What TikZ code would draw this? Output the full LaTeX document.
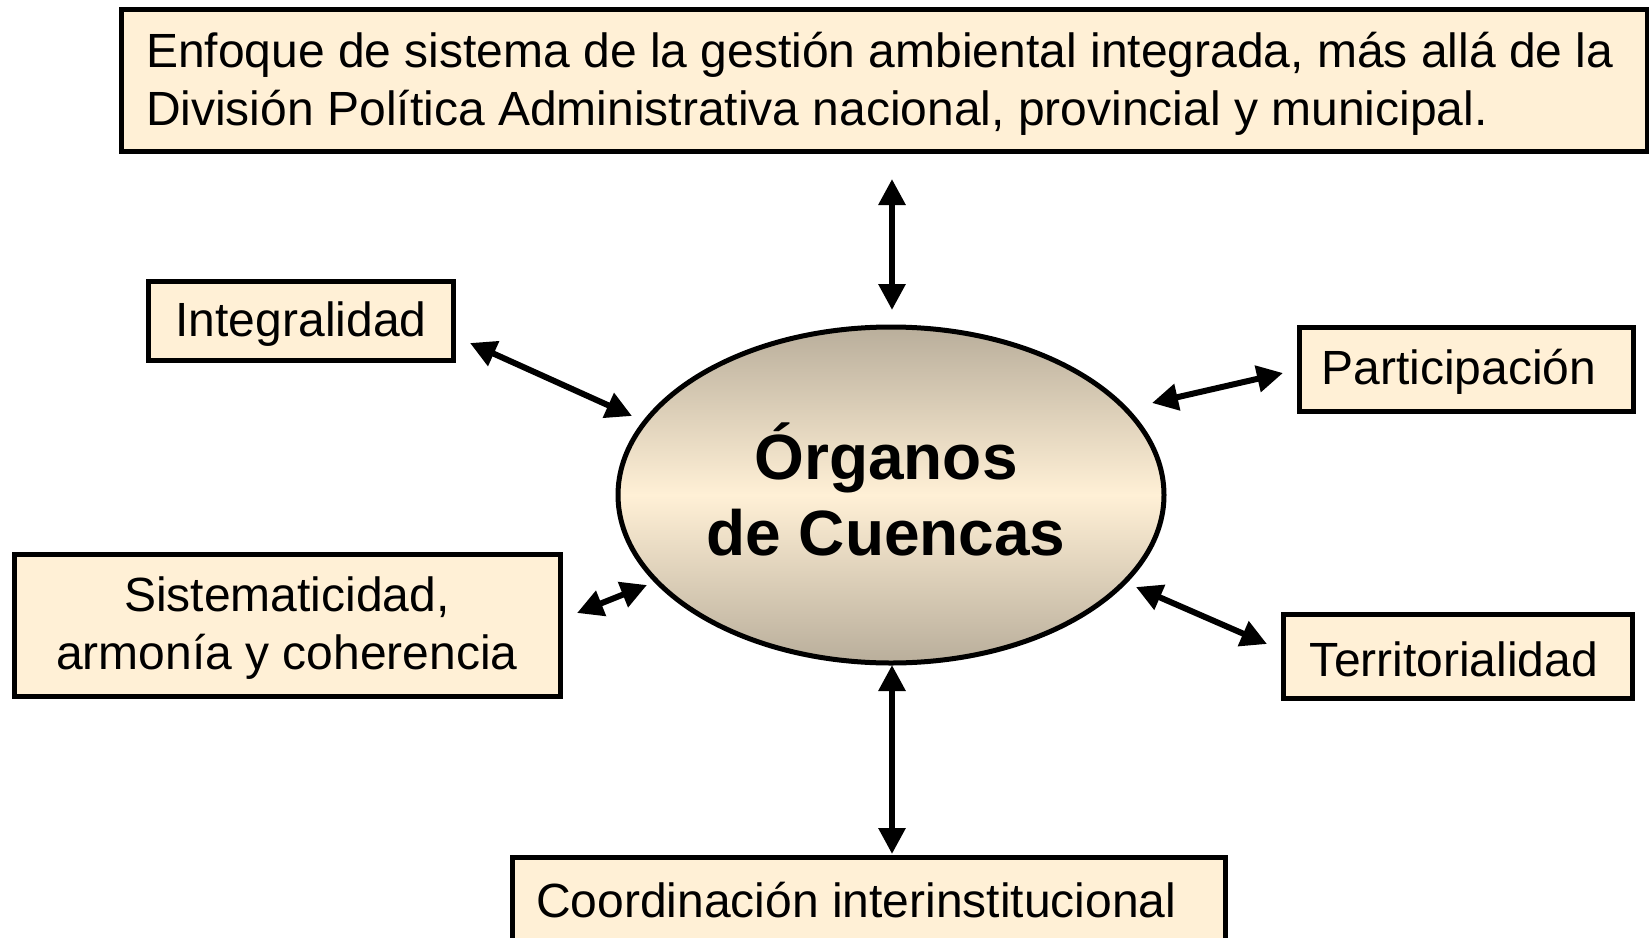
\documentclass[tikz,border=0pt]{standalone}
\usepackage{fontspec}
\setmainfont{Liberation Sans}
\usetikzlibrary{arrows.meta,shapes.geometric}
\definecolor{cream}{HTML}{FFF0D6}
\definecolor{taupe}{HTML}{B9AE9B}
\newcommand{\shiftv}[2]{\raisebox{#1}[\height][\depth]{#2}}
\tikzset{
  boxst/.style={draw=black, line width=5pt, fill=cream, inner sep=0pt, font=\fontsize{48}{58}\selectfont},
  ell/.style={ellipse, draw=black, line width=5pt, top color=taupe, bottom color=taupe, middle color=cream, inner sep=0pt, minimum width=546pt, minimum height=336pt, align=center, font=\bfseries\fontsize{64}{76}\selectfont},
  arr/.style={arrows={Triangle[length=26pt,width=26pt]-Triangle[length=26pt,width=26pt]}, line width=6pt}
}
\begin{document}
\begin{tikzpicture}[x=1pt,y=-1pt]
\useasboundingbox (0,0) rectangle (1649,937);
\fill[white] (0,0) rectangle (1649,937);
\node[boxst, minimum width=1526pt, minimum height=142pt] (top) at (884,80)
  {\shiftv{-4pt}{\parbox{1476pt}{\raggedright Enfoque de sistema de la gestión ambiental integrada, más allá de la\\División Política Administrativa nacional, provincial y municipal.}}};
\node[boxst, minimum width=305pt, minimum height=79pt] (int) at (301,321) {\shiftv{-3pt}{Integralidad}};
\node[boxst, minimum width=334pt, minimum height=84pt] (par) at (1466,369) {\hspace*{-14pt}\shiftv{-3pt}{Participación}};
\node[boxst, minimum width=546pt, minimum height=142pt] (sis) at (287,625) {\shiftv{-3pt}{\parbox{520pt}{\centering Sistematicidad,\\armonía y coherencia}}};
\node[boxst, minimum width=349pt, minimum height=84pt] (ter) at (1458,656) {\hspace*{-8pt}\shiftv{-3pt}{Territorialidad}};
\node[boxst, minimum width=713pt, minimum height=86pt, text width=665pt, align=flush left] (coo) at (868.5,900) {Coordinación interinstitucional};
\node[ell] (org) at (891,495) {\hspace*{-10pt}\shiftv{6pt}{\parbox{370pt}{\centering Órganos\\de Cuencas}}};
\coordinate (t1) at (892,179); \coordinate (t2) at (892,310);
\coordinate (i1) at (470,343); \coordinate (i2) at (632,416);
\coordinate (p1) at (1152,403); \coordinate (p2) at (1283,373);
\coordinate (s1) at (577,613); \coordinate (s2) at (647,585);
\coordinate (r1) at (1136,587); \coordinate (r2) at (1267,644);
\coordinate (b1) at (892,665); \coordinate (b2) at (892,854);
\draw[arr] (t1) -- (t2);
\draw[arr] (i1) -- (i2);
\draw[arr] (p1) -- (p2);
\draw[arr] (s1) -- (s2);
\draw[arr] (r1) -- (r2);
\draw[arr] (b1) -- (b2);
\end{tikzpicture}
\end{document}
